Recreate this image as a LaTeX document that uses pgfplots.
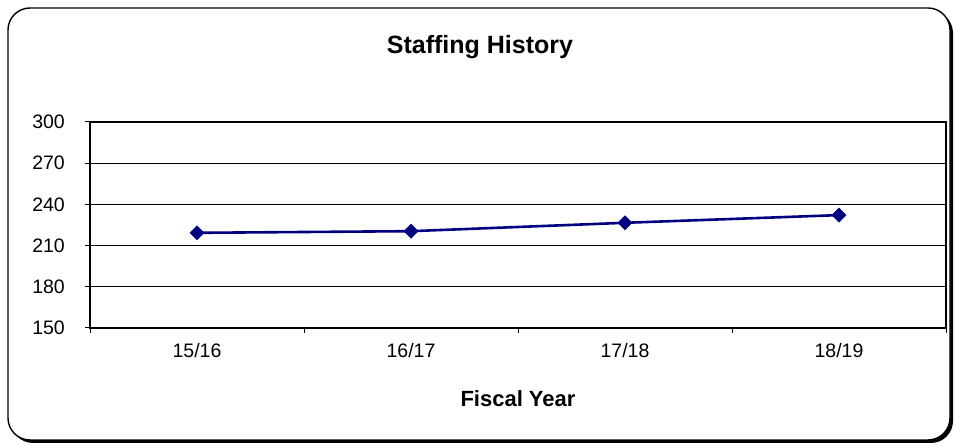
\documentclass[border=0pt]{standalone}
\usepackage{fontspec}
\setmainfont{Liberation Sans}
\usepackage{pgfplots}
\pgfplotsset{compat=1.18}
\definecolor{navyline}{RGB}{0,0,128}
\begin{document}
\begin{tikzpicture}[x=1pt,y=1pt]
\path[use as bounding box] (0,0) rectangle (956,446);
\fill[black,rounded corners=22pt] (11,3) rectangle (953,435);
\draw[line width=1.4pt,fill=white,rounded corners=22pt] (8,6) rectangle (950,438);
\node[font=\bfseries\fontsize{25}{28}\selectfont] at (480,399) {Staffing History};
\begin{axis}[
  at={(90pt,118pt)}, anchor=south west,
  scale only axis, width=856pt, height=206pt,
  xmin=-0.5, xmax=3.5, ymin=150, ymax=300,
  ytick={150,180,...,300},
  xtick={-0.5,0.5,1.5,2.5,3.5}, xticklabels={},
  extra x ticks={0,1,2,3},
  extra x tick labels={15/16,16/17,17/18,18/19},
  extra x tick style={major tick length=0pt, grid=none},
  xtick pos=lower, ytick pos=left,
  tick align=outside, major tick length=5pt,
  tick style={black, line width=1pt},
  ymajorgrids, grid style={black, line width=1pt},
  axis line style={black, line width=1.3pt},
  /pgf/number format/assume math mode=true,
  tick label style={font=\fontsize{19.5}{22}\selectfont},
  yticklabel style={inner sep=0pt, xshift=-20pt},
  xticklabel style={inner sep=0pt, yshift=-15pt},
  xlabel={\bfseries Fiscal Year},
  xlabel style={font=\bfseries\fontsize{22}{26}\selectfont, at={(axis description cs:0.5,0)}, anchor=center, yshift=-71pt},
  clip=false,
]
\addplot[navyline, line width=2.6pt, mark=square*, mark size=5pt, mark options={rotate=45, fill=navyline, line width=0.5pt}]
  coordinates {(0,219.3) (1,220.5) (2,226.6) (3,232.2)};
\end{axis}
\end{tikzpicture}
\end{document}
